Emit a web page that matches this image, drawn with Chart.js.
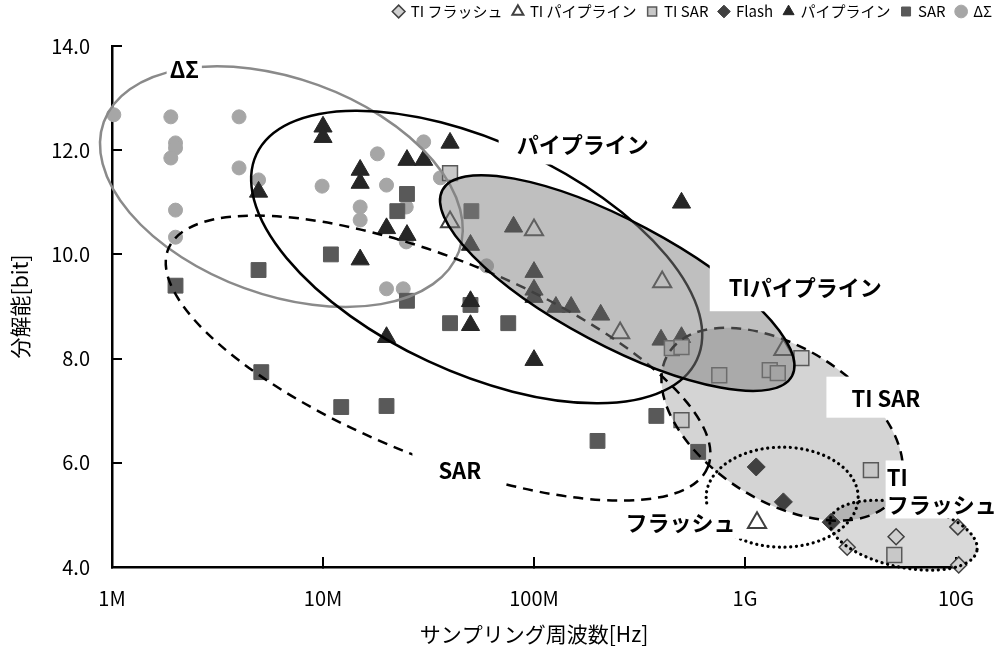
<!DOCTYPE html>
<html lang="ja">
<head>
<meta charset="utf-8">
<title>ADC 分解能とサンプリング周波数</title>
<script src="https://cdn.jsdelivr.net/npm/chart.js@4.4.1/dist/chart.umd.min.js"></script>
<style>
  html, body { margin: 0; padding: 0; background: #fff; }
  canvas { display: block; }
</style>
</head>
<body>
<canvas id="adc" width="1003" height="650"></canvas>
<script>
// ---- axis ticks ----
const freqTicks = [1e6, 1e7, 1e8, 1e9, 1e10];
const freqTickLabels = ['1M', '10M', '100M', '1G', '10G'];

// ---- series (sampling frequency [Hz], resolution [bit]) ----
const seriesNames = ['TI フラッシュ', 'TI パイプライン', 'TI SAR', 'Flash', 'パイプライン', 'SAR', 'ΔΣ'];

const tiFlashFreq = [3.05e9, 5.2e9, 1.03e10, 1.02e10];
const tiFlashBits = [4.38, 4.58, 4.04, 4.77];

const tiPipeFreq = [4.0e7, 1.0e8, 2.56e8, 4.05e8, 1.52e9, 1.14e9];
const tiPipeBits = [10.62, 10.47, 8.49, 9.47, 8.17, 4.85];

const tiSarFreq = [4.0e7, 4.5e8, 5.0e8, 5.0e8, 7.55e8, 1.31e9, 1.43e9, 1.85e9, 3.95e9, 5.1e9];
const tiSarBits = [11.56, 8.2, 8.22, 6.82, 7.68, 7.78, 7.72, 8.01, 5.86, 4.23];

const flashFreq = [1.13e9, 1.52e9, 2.56e9];
const flashBits = [5.92, 5.25, 4.86];

const pipeFreq = [1.0e7, 1.0e7, 4.95e6, 1.5e7, 1.5e7, 2.5e7, 3.0e7, 4.0e7, 2.0e7, 2.5e7, 1.5e7, 5.0e7, 5.0e7,
                  2.0e7, 5.0e7, 8.0e7, 1.0e8, 1.0e8, 1.0e8, 1.27e8, 1.5e8, 2.07e8, 4.0e8, 5.0e8, 1.0e8, 5.0e8];
const pipeBits = [12.45, 12.25, 11.2, 11.62, 11.37, 11.81, 11.81, 12.14, 10.5, 10.37, 9.9, 10.18, 9.1,
                  8.41, 8.64, 10.53, 9.66, 9.32, 9.18, 8.99, 8.99, 8.84, 8.36, 10.99, 7.97, 8.41];

const sarFreq = [2.0e6, 4.95e6, 5.1e6, 1.09e7, 1.22e7, 2.0e7, 2.25e7, 2.5e7, 2.5e7, 4.0e7, 5.0e7, 5.05e7,
                 7.55e7, 2.0e8, 3.8e8, 6.0e8];
const sarBits = [9.4, 9.7, 7.74, 10.0, 7.07, 7.09, 10.83, 11.16, 9.11, 8.68, 9.03, 10.83,
                 8.68, 6.42, 6.9, 6.21];

const dsFreq = [1.02e6, 1.9e6, 2.0e6, 2.0e6, 1.9e6, 4.0e6, 4.0e6, 4.95e6, 9.9e6, 2.0e6, 2.0e6,
                1.81e7, 2.0e7, 3.0e7, 3.6e7, 2.48e7, 2.48e7, 1.5e7, 1.5e7, 2.0e7, 2.4e7, 5.96e7];
const dsBits = [12.68, 12.64, 12.14, 12.04, 11.85, 12.64, 11.66, 11.43, 11.31, 10.85, 10.33,
                11.93, 11.33, 12.16, 11.47, 10.91, 10.24, 10.91, 10.66, 9.34, 9.34, 9.78];

const toPoints = (xs, ys) => xs.map((x, i) => ({ x, y: ys[i] }));

const JP = '"Noto Sans CJK JP", "Noto Sans", sans-serif';

// ---- architecture regions: centre in axis units, radii (px) along the rotated axes ----
const regions = {
  deltaSigma: { fx: 6.35e6, bit: 11.3,  rx: 189, ry: 108, rot: 20, stroke: '#8a8a8a', width: 2.5 },
  pipeline:   { fx: 5.35e7, bit: 9.95,  rx: 243, ry: 115, rot: 25, stroke: '#000', width: 2.5 },
  sar:        { fx: 3.51e7, bit: 8.01,  rx: 291, ry: 99,  rot: 22, stroke: '#000', width: 2.5, dash: [10, 7] },
  tiSar:      { fx: 1.5e9,  bit: 6.74,  rx: 134, ry: 77,  rot: 32, stroke: '#000', width: 2.5, dash: [10, 7], fill: '#d4d4d4' },
  tiPipeline: { fx: 2.48e8, bit: 9.45,  rx: 198, ry: 62,  rot: 28, stroke: '#000', width: 2.5, fill: 'rgba(128,128,128,0.5)' },
  flash:      { fx: 1.5e9,  bit: 5.34,  rx: 76,  ry: 50,  rot: 0,  stroke: '#000', width: 3.2, dash: [0.1, 5.6], cap: 'round' },
  tiFlash:    { fx: 5.64e9, bit: 4.61,  rx: 75,  ry: 32,  rot: 12, stroke: '#000', width: 3.2, dash: [0.1, 5.6], cap: 'round', fill: 'rgba(0,0,0,0.15)' }
};

// ---- region captions (white backed), pad = [left, top, right, bottom] ----
const notes = [
  { lines: ['ΔΣ'],            fx: 2.2e6,  bit: 13.54, pad: [3, 2, 3, 2] },
  { lines: ['パイプライン'],    fx: 1.70e8, bit: 12.10, pad: [18, 6, 7, 6] },
  { lines: ['TIパイプライン'],  fx: 1.93e9, bit: 9.36,  pad: [19, 10, 8, 10] },
  { lines: ['TI SAR'],        fx: 4.65e9, bit: 7.24,  pad: [25, 8, 17, 6] },
  { lines: ['TI', 'フラッシュ'], fx: 4.69e9, bit: 5.45,  pad: [1, 4, 12, 0], align: 'left' },
  { lines: ['SAR'],           fx: 4.45e7, bit: 5.84,  pad: [26, 6, 23, 8] },
  { lines: ['フラッシュ'],      fx: 4.95e8, bit: 4.86,  pad: [3, 3, 7, 3] }
];

function regionPath(chart, r) {
  const ctx = chart.ctx;
  const cx = chart.scales.x.getPixelForValue(r.fx);
  const cy = chart.scales.y.getPixelForValue(r.bit);
  ctx.beginPath();
  ctx.ellipse(cx, cy, r.rx, r.ry, r.rot * Math.PI / 180, 0, 2 * Math.PI);
}
function fillRegion(chart, r) {
  const ctx = chart.ctx;
  ctx.save();
  regionPath(chart, r);
  ctx.fillStyle = r.fill;
  ctx.fill();
  ctx.restore();
}
function strokeRegion(chart, r) {
  const ctx = chart.ctx;
  ctx.save();
  regionPath(chart, r);
  ctx.strokeStyle = r.stroke;
  ctx.lineWidth = r.width;
  ctx.setLineDash(r.dash || []);
  ctx.lineCap = r.cap || 'butt';
  ctx.stroke();
  ctx.restore();
}
function drawNotes(chart) {
  const ctx = chart.ctx;
  const lh = 27;
  ctx.save();
  ctx.font = 'bold 22px ' + JP;
  ctx.textBaseline = 'middle';
  notes.forEach(n => {
    const px = chart.scales.x.getPixelForValue(n.fx);
    const py = chart.scales.y.getPixelForValue(n.bit);
    const w = Math.max(...n.lines.map(t => ctx.measureText(t).width));
    const h = lh * n.lines.length;
    const left = n.align === 'left' ? px : px - w / 2;
    const top = py - h / 2;
    ctx.fillStyle = '#fff';
    ctx.fillRect(left - n.pad[0], top - n.pad[1], w + n.pad[0] + n.pad[2], h + n.pad[1] + n.pad[3]);
    ctx.fillStyle = '#000';
    ctx.textAlign = n.align === 'left' ? 'left' : 'center';
    n.lines.forEach((t, i) => {
      ctx.fillText(t, n.align === 'left' ? left : px, top + lh * i + lh / 2);
    });
  });
  ctx.restore();
}

const regionLayers = {
  id: 'regionLayers',
  beforeDatasetsDraw(chart) {
    fillRegion(chart, regions.tiSar);
    fillRegion(chart, regions.tiFlash);
  },
  afterDatasetsDraw(chart) {
    strokeRegion(chart, regions.deltaSigma);
    strokeRegion(chart, regions.pipeline);
    strokeRegion(chart, regions.sar);
    strokeRegion(chart, regions.tiSar);
    fillRegion(chart, regions.tiPipeline);
    strokeRegion(chart, regions.tiPipeline);
    strokeRegion(chart, regions.flash);
    strokeRegion(chart, regions.tiFlash);
    drawNotes(chart);
  }
};

// keeps the legend band a fixed height so the plot starts below it
const legendBand = {
  id: 'legendBand',
  afterInit(chart) {
    const lg = chart.legend;
    if (!lg) return;
    const fit = lg.fit.bind(lg);
    lg.fit = function () { fit(); this.height = 53; };
  }
};

const datasets = [
  { label: seriesNames[0], data: toPoints(tiFlashFreq, tiFlashBits), pointStyle: 'rectRot', radius: 8,
    backgroundColor: '#d0d0d0', borderColor: '#404040', borderWidth: 1.5 },
  { label: seriesNames[1], data: toPoints(tiPipeFreq, tiPipeBits), pointStyle: 'triangle', radius: 10.5,
    backgroundColor: 'rgba(0,0,0,0)', borderColor: '#404040', borderWidth: 2 },
  { label: seriesNames[2], data: toPoints(tiSarFreq, tiSarBits), pointStyle: 'rect', radius: 10.5,
    backgroundColor: '#c8c8c8', borderColor: '#595959', borderWidth: 1.5 },
  { label: seriesNames[3], data: toPoints(flashFreq, flashBits), pointStyle: 'rectRot', radius: 9,
    backgroundColor: '#404040', borderColor: '#404040', borderWidth: 1 },
  { label: seriesNames[4], data: toPoints(pipeFreq, pipeBits), pointStyle: 'triangle', radius: 10.5,
    backgroundColor: '#262626', borderColor: '#262626', borderWidth: 1 },
  { label: seriesNames[5], data: toPoints(sarFreq, sarBits), pointStyle: 'rect', radius: 10.5,
    backgroundColor: '#595959', borderColor: '#595959', borderWidth: 1 },
  { label: seriesNames[6], data: toPoints(dsFreq, dsBits), pointStyle: 'circle', radius: 7,
    backgroundColor: '#a6a6a6', borderColor: '#a6a6a6', borderWidth: 1 }
];
datasets.forEach(d => { d.clip = false; d.hoverRadius = d.radius; });

new Chart(document.getElementById('adc'), {
  type: 'scatter',
  data: { datasets },
  plugins: [regionLayers, legendBand],
  options: {
    responsive: false,
    animation: false,
    devicePixelRatio: 1,
    events: [],
    layout: { padding: { top: -7, left: 0, right: 0, bottom: 0 } },
    plugins: {
      tooltip: { enabled: false },
      legend: {
        position: 'top',
        align: 'end',
        labels: {
          usePointStyle: true,
          boxWidth: 9,
          boxHeight: 9,
          padding: 11,
          color: '#000',
          font: { family: JP, size: 15 }
        }
      }
    },
    scales: {
      x: {
        type: 'logarithmic',
        min: 1e6,
        max: 1e10,
        afterBuildTicks: s => { s.ticks = freqTicks.map(v => ({ value: v })); },
        afterFit: s => { s.height = 83; },
        ticks: {
          autoSkip: false,
          maxRotation: 0,
          padding: 29,
          color: '#000',
          font: { family: JP, size: 20 },
          callback: (v, i) => freqTickLabels[i]
        },
        grid: { drawOnChartArea: false, drawTicks: true, tickLength: -10, color: '#000', lineWidth: 2 },
        border: { color: '#000', width: 2.5 },
        title: { display: true, text: 'サンプリング周波数[Hz]', color: '#000',
                 font: { family: JP, size: 21 }, padding: { top: 0, bottom: 3 } }
      },
      y: {
        min: 4,
        max: 14,
        afterFit: s => { s.width = 112; },
        ticks: {
          stepSize: 2,
          padding: 32,
          color: '#000',
          font: { family: JP, size: 20 },
          callback: v => v.toFixed(1)
        },
        grid: { drawOnChartArea: false, drawTicks: true, tickLength: -10, color: '#000', lineWidth: 2 },
        border: { color: '#000', width: 2.5 },
        title: { display: true, text: '分解能[bit]', color: '#000',
                 font: { family: JP, size: 21 }, padding: { top: 7, bottom: 0 } }
      },
      edge: {
        type: 'linear',
        position: 'right',
        display: true,
        afterFit: s => { s.width = 39; },
        grid: { display: false },
        border: { display: false },
        ticks: { display: false }
      }
    }
  }
});
</script>
</body>
</html>
